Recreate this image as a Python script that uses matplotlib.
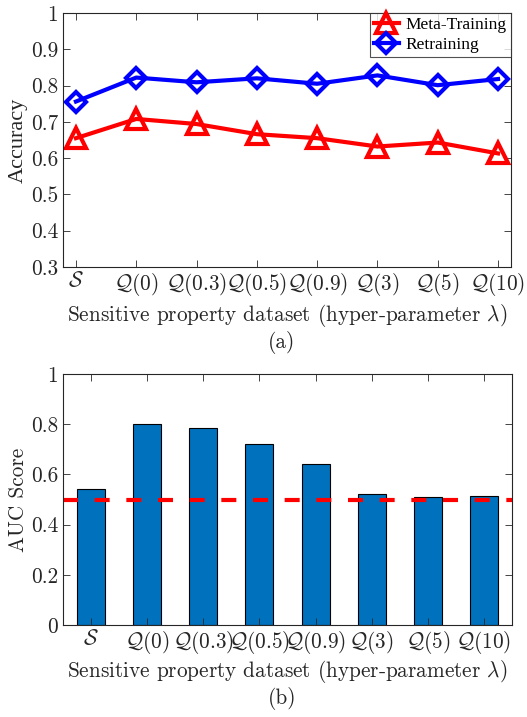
import numpy as np
import matplotlib
matplotlib.use('Agg')
import matplotlib.pyplot as plt

plt.rcParams['font.family'] = 'serif'
plt.rcParams['font.serif'] = ['cmr10']
plt.rcParams['mathtext.fontset'] = 'cm'
plt.rcParams['axes.unicode_minus'] = False
plt.rcParams['axes.formatter.use_mathtext'] = True

# data
datasets = [r'$\mathcal{S}$', r'$\mathcal{Q}(0)$', r'$\mathcal{Q}(0.3)$', r'$\mathcal{Q}(0.5)$',
            r'$\mathcal{Q}(0.9)$', r'$\mathcal{Q}(3)$', r'$\mathcal{Q}(5)$', r'$\mathcal{Q}(10)$']
meta_training = [0.655, 0.708, 0.694, 0.666, 0.655, 0.632, 0.643, 0.613]
retraining = [0.756, 0.822, 0.809, 0.820, 0.805, 0.828, 0.801, 0.818]
auc_score = [0.542, 0.800, 0.785, 0.723, 0.643, 0.523, 0.509, 0.513]
chance_level = 0.5

acc_ticks = [0.3, 0.4, 0.5, 0.6, 0.7, 0.8, 0.9, 1.0]
acc_ticklabels = ['0.3', '0.4', '0.5', '0.6', '0.7', '0.8', '0.9', '1']
auc_ticks = [0, 0.2, 0.4, 0.6, 0.8, 1.0]
auc_ticklabels = ['0', '0.2', '0.4', '0.6', '0.8', '1']

xlabel = r'Sensitive property dataset (hyper-parameter $\lambda$)'
axcol = '#262626'
fs = 15.3
times = 'Liberation Serif'

x = np.arange(1, len(datasets) + 1)

fig = plt.figure(figsize=(5.27, 7.17), dpi=100, facecolor='w')
ax1 = fig.add_axes([0.1195, 0.6276, 0.8501, 0.3543])
ax2 = fig.add_axes([0.1195, 0.1283, 0.852, 0.350])

# (a) accuracy
ax1.plot(x, meta_training, color='r', lw=3, marker='^', ms=14, mew=3,
         mfc='none', label='Meta-Training')
ax1.plot(x, retraining, color='b', lw=3, marker='D', ms=10.5, mew=3,
         mfc='none', label='Retraining')
ax1.set_xlim(0.785, 8.215)
ax1.set_ylim(0.3, 1.0)
ax1.set_yticks(acc_ticks)
ax1.set_yticklabels(acc_ticklabels)
ax1.set_ylabel('Accuracy', fontsize=16, family=times)
leg = ax1.legend(loc='upper right', prop={'family': times, 'size': 12.5}, fancybox=False,
                 borderaxespad=0, handlelength=1.4, handletextpad=0.4, borderpad=0.25,
                 labelspacing=0.2)
leg.get_frame().set_edgecolor(axcol)
leg.get_frame().set_linewidth(0.8)

# (b) AUC
ax2.bar(x, auc_score, width=0.5, color='#0072BD', edgecolor='k', lw=0.8)
ax2.axhline(chance_level, color='r', lw=3, dashes=(3.6, 4.0))
ax2.set_xlim(0.5, 8.5)
ax2.set_ylim(0, 1)
ax2.set_yticks(auc_ticks)
ax2.set_yticklabels(auc_ticklabels)
ax2.set_ylabel('AUC Score', fontsize=fs)

for ax in (ax1, ax2):
    ax.set_xticks(x)
    ax.set_xticklabels(datasets)
    ax.set_xlabel(xlabel, fontsize=fs)
    ax.tick_params(direction='in', top=True, right=True, length=5, width=0.6,
                   color=axcol, labelcolor=axcol, labelsize=fs)
    ax.tick_params(axis='x', pad=3)
    for s in ax.spines.values():
        s.set_color(axcol)
        s.set_linewidth(0.8)
    ax.yaxis.set_label_coords(-0.1, 0.5)
    ax.yaxis.label.set_va('center')
    ax.yaxis.label.set_color(axcol)
    ax.xaxis.label.set_color(axcol)

ax1.xaxis.set_label_coords(0.5, -0.19)
ax1.xaxis.label.set_va('center')
ax2.xaxis.set_label_coords(0.5, -0.185)
ax2.xaxis.label.set_va('center')

fig.text(0.535, 1 - 342 / 717, '(a)', ha='center', va='center', fontsize=fs, color=axcol)
fig.text(0.535, 1 - 698 / 717, '(b)', ha='center', va='center', fontsize=fs, color=axcol)

plt.savefig('out.png', dpi=100)
